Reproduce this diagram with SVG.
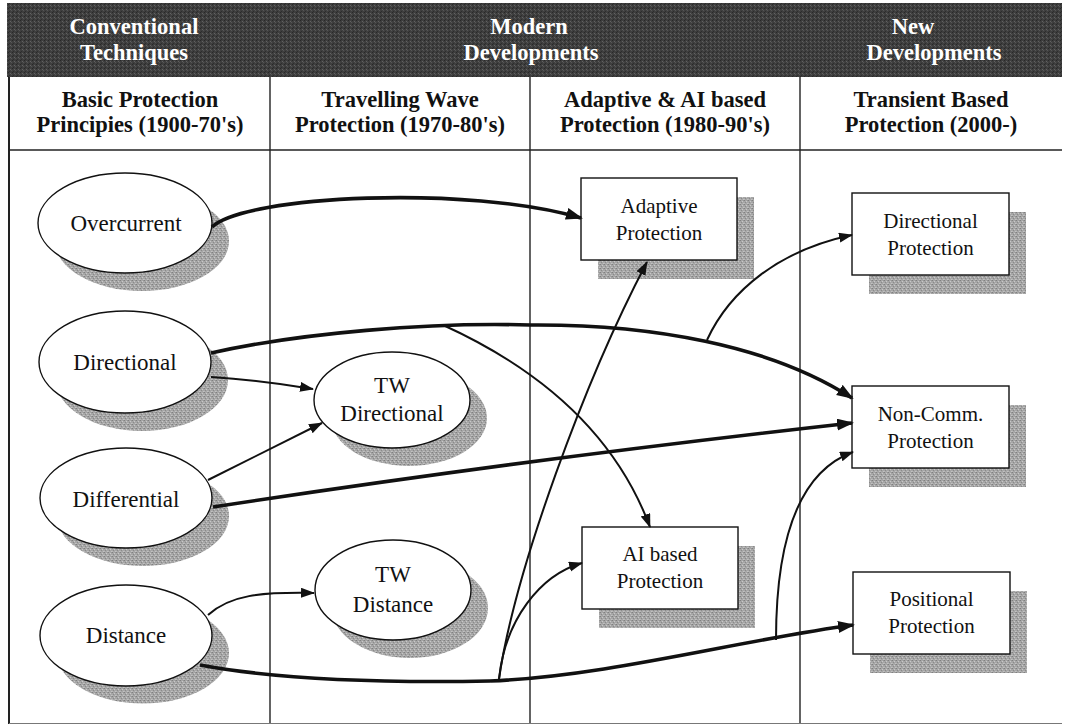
<svg xmlns="http://www.w3.org/2000/svg" width="1069" height="725" viewBox="0 0 1069 725">
  <defs>
    <!-- stippled grey used for drop shadows -->
    <pattern id="stipple" width="4" height="4" patternUnits="userSpaceOnUse">
      <rect width="4" height="4" fill="#a6a6a6"/>
      <rect x="0" y="0" width="1" height="1" fill="#808080"/>
      <rect x="2" y="1" width="1" height="1" fill="#c9c9c9"/>
      <rect x="1" y="2" width="1" height="1" fill="#8a8a8a"/>
      <rect x="3" y="3" width="1" height="1" fill="#c2c2c2"/>
      <rect x="3" y="0" width="1" height="1" fill="#959595"/>
      <rect x="0" y="3" width="1" height="1" fill="#b8b8b8"/>
    </pattern>
    <!-- dark grained fill of the title band -->
    <pattern id="darkgrain" width="4" height="4" patternUnits="userSpaceOnUse">
      <rect width="4" height="4" fill="#3e3e3e"/>
      <rect x="0" y="0" width="1" height="1" fill="#282828"/>
      <rect x="2" y="1" width="1" height="1" fill="#626262"/>
      <rect x="1" y="3" width="1" height="1" fill="#2d2d2d"/>
      <rect x="3" y="2" width="1" height="1" fill="#565656"/>
    </pattern>
    <marker id="arrowThick" markerUnits="userSpaceOnUse" markerWidth="18" markerHeight="14" refX="15" refY="6" orient="auto">
      <path d="M0,0 L17,6 L0,12 z" fill="#111"/>
    </marker>
    <marker id="arrowThin" markerUnits="userSpaceOnUse" markerWidth="16" markerHeight="12" refX="13" refY="5" orient="auto">
      <path d="M0,0 L14,5 L0,10 z" fill="#111"/>
    </marker>
    <style>
      .band { fill: url(#darkgrain); }
      .grid { stroke: #222; stroke-width: 1.4; fill: none; }
      .border { stroke: #222; stroke-width: 2; fill: none; }
      .hdrW { font-family: "Liberation Serif", serif; font-weight: bold; font-size: 22.5px; fill: #ffffff; text-anchor: middle; }
      .hdrB { font-family: "Liberation Serif", serif; font-weight: bold; font-size: 22.5px; fill: #111; text-anchor: middle; }
      .shadow { fill: url(#stipple); stroke: none; }
      .node { fill: #ffffff; stroke: #111; stroke-width: 1.4; }
      .lblE { font-family: "Liberation Serif", serif; font-size: 23px; fill: #111; text-anchor: middle; }
      .lblB { font-family: "Liberation Serif", serif; font-size: 21px; fill: #111; text-anchor: middle; }
      .thick { fill: none; stroke: #111; stroke-width: 3.6; marker-end: url(#arrowThick); }
      .thickPlain { fill: none; stroke: #111; stroke-width: 3.6; }
      .thin { fill: none; stroke: #111; stroke-width: 2; marker-end: url(#arrowThin); }
    </style>
  </defs>

  <rect width="1069" height="725" fill="#ffffff"/>

  <!-- table frame -->
  <g id="table">
    <rect class="band" x="7" y="3" width="1055" height="74"/>
    <line class="border" x1="9" y1="77" x2="9" y2="724"/>
    <line class="grid" x1="9" y1="150" x2="1062" y2="150"/>
    <line class="grid" x1="270" y1="77" x2="270" y2="724"/>
    <line class="grid" x1="530" y1="77" x2="530" y2="724"/>
    <line class="grid" x1="800" y1="77" x2="800" y2="724"/>
    <line x1="9" y1="723.5" x2="1062" y2="723.5" stroke="#777" stroke-width="1.2"/>
  </g>

  <!-- era titles -->
  <g id="eras">
    <text class="hdrW" x="134" y="34">Conventional</text>
    <text class="hdrW" x="134" y="60">Techniques</text>
    <text class="hdrW" x="529" y="34">Modern</text>
    <text class="hdrW" x="531" y="60">Developments</text>
    <text class="hdrW" x="913" y="34">New</text>
    <text class="hdrW" x="934" y="60">Developments</text>
  </g>

  <!-- column titles -->
  <g id="columns">
    <text class="hdrB" x="140" y="107">Basic Protection</text>
    <text class="hdrB" x="140" y="132">Principies (1900-70's)</text>
    <text class="hdrB" x="400" y="107">Travelling Wave</text>
    <text class="hdrB" x="400" y="132">Protection (1970-80's)</text>
    <text class="hdrB" x="665" y="107">Adaptive &amp; AI based</text>
    <text class="hdrB" x="665" y="132">Protection (1980-90's)</text>
    <text class="hdrB" x="931" y="107">Transient Based</text>
    <text class="hdrB" x="931" y="132">Protection (2000-)</text>
  </g>

  <!-- principle ellipses -->
  <g id="overcurrent">
    <ellipse class="shadow" cx="142" cy="241" rx="87" ry="50"/>
    <ellipse class="node" cx="125" cy="223" rx="87" ry="50"/>
    <text class="lblE" x="126" y="231">Overcurrent</text>
  </g>
  <g id="directional">
    <ellipse class="shadow" cx="142" cy="380" rx="86" ry="51"/>
    <ellipse class="node" cx="125" cy="362" rx="86" ry="51"/>
    <text class="lblE" x="125" y="370">Directional</text>
  </g>
  <g id="differential">
    <ellipse class="shadow" cx="143" cy="516" rx="86" ry="50"/>
    <ellipse class="node" cx="126" cy="498" rx="86" ry="50"/>
    <text class="lblE" x="126" y="507">Differential</text>
  </g>
  <g id="distance">
    <ellipse class="shadow" cx="143" cy="653" rx="86" ry="50.5"/>
    <ellipse class="node" cx="126" cy="635.5" rx="86" ry="50.5"/>
    <text class="lblE" x="126" y="643">Distance</text>
  </g>
  <g id="tw-directional">
    <ellipse class="shadow" cx="409" cy="418" rx="78" ry="48"/>
    <ellipse class="node" cx="392" cy="400" rx="78" ry="48"/>
    <text class="lblE" x="392" y="393">TW</text>
    <text class="lblE" x="392" y="421">Directional</text>
  </g>
  <g id="tw-distance">
    <ellipse class="shadow" cx="410" cy="608" rx="78" ry="50"/>
    <ellipse class="node" cx="393" cy="590" rx="78" ry="50"/>
    <text class="lblE" x="393" y="582">TW</text>
    <text class="lblE" x="393" y="612">Distance</text>
  </g>

  <!-- protection scheme boxes -->
  <g id="adaptive">
    <rect class="shadow" x="598" y="197" width="156" height="82"/>
    <rect class="node" x="581" y="178" width="156" height="82"/>
    <text class="lblB" x="659" y="213">Adaptive</text>
    <text class="lblB" x="659" y="240">Protection</text>
  </g>
  <g id="ai-based">
    <rect class="shadow" x="599" y="546" width="156" height="82"/>
    <rect class="node" x="582" y="527" width="156" height="82"/>
    <text class="lblB" x="660" y="561">AI based</text>
    <text class="lblB" x="660" y="588">Protection</text>
  </g>
  <g id="directional-protection">
    <rect class="shadow" x="869" y="212" width="157" height="82"/>
    <rect class="node" x="852" y="193" width="157" height="82"/>
    <text class="lblB" x="930.5" y="228">Directional</text>
    <text class="lblB" x="930.5" y="255">Protection</text>
  </g>
  <g id="non-comm">
    <rect class="shadow" x="869" y="405" width="157" height="82"/>
    <rect class="node" x="852" y="386" width="157" height="82"/>
    <text class="lblB" x="930.5" y="421">Non-Comm.</text>
    <text class="lblB" x="930.5" y="448">Protection</text>
  </g>
  <g id="positional">
    <rect class="shadow" x="870" y="591" width="157" height="82"/>
    <rect class="node" x="853" y="572" width="157" height="82"/>
    <text class="lblB" x="931.5" y="606">Positional</text>
    <text class="lblB" x="931.5" y="633">Protection</text>
  </g>

  <!-- connectors -->
  <g id="connectors">
    <!-- Overcurrent to Adaptive -->
    <path class="thick" d="M212,227 C245,195 470,185 581,218"/>
    <!-- Directional to Non-Comm., with branches -->
    <path class="thickPlain" d="M211,353 C300,333 430,322 530,325"/>
    <path class="thick" d="M530,325 C650,324 770,345 852,398"/>
    <path class="thin" d="M443,325 C520,360 610,420 650,527"/>
    <path class="thin" d="M707,340 C730,290 780,250 852,235"/>
    <!-- into TW Directional -->
    <path class="thin" d="M211,377 Q260,380 313,389"/>
    <path class="thin" d="M208,480 L322,423"/>
    <!-- Differential to Non-Comm. -->
    <path class="thick" d="M213,507 Q520,460 852,423"/>
    <!-- Distance to TW Distance -->
    <path class="thin" d="M208,615 C230,595 260,592 314,593"/>
    <!-- Distance to Positional, with branches -->
    <path class="thickPlain" d="M200,665 C280,680 380,683 490,681"/>
    <path class="thick" d="M490,681 C610,676 740,640 853,625"/>
    <path class="thin" d="M499,679 C515,570 585,380 647,262"/>
    <path class="thin" d="M499,679 C505,620 540,575 582,563"/>
    <path class="thin" d="M776,640 C776,560 790,475 853,452"/>
  </g>
</svg>
